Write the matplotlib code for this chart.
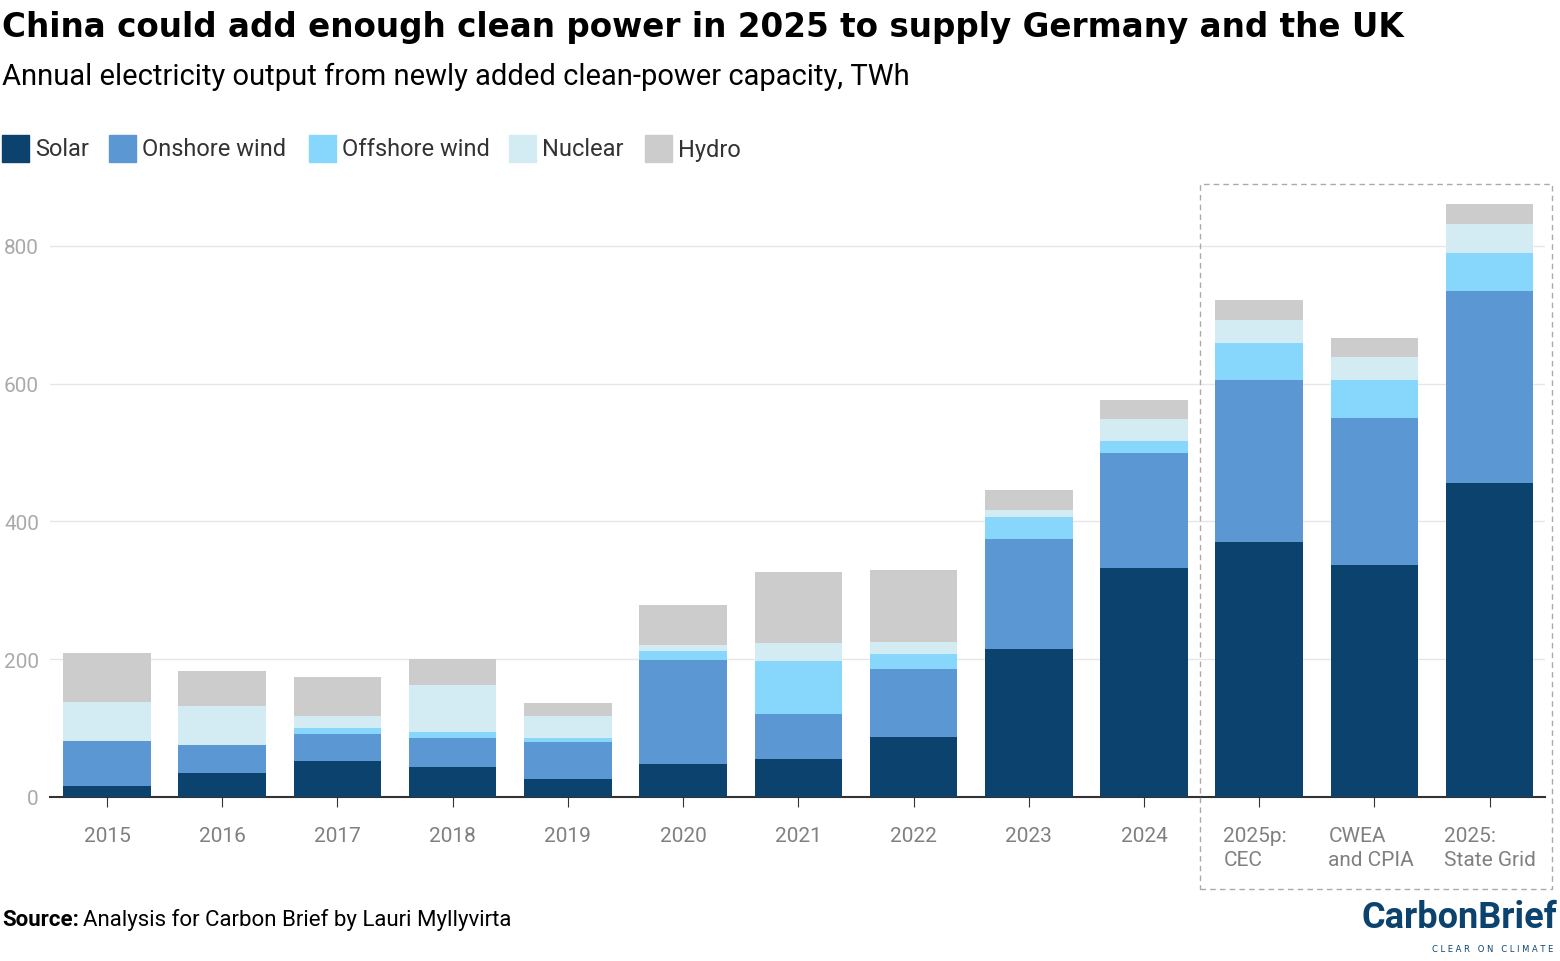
import numpy as np
import matplotlib.pyplot as plt
import matplotlib.transforms as mtrans
from matplotlib.patches import Rectangle

# data (TWh)
categories = ['2015', '2016', '2017', '2018', '2019', '2020', '2021', '2022', '2023', '2024',
              '2025p:\nCEC', 'CWEA\nand CPIA', '2025:\nState Grid']
solar = [16, 35, 52, 44, 26, 48, 55, 87, 215, 332, 370, 337, 456]
onshore = [65, 40, 39, 42, 54, 151, 66, 99, 160, 167, 235, 213, 279]
offshore = [0, 0, 9, 8, 6, 13, 76, 22, 32, 18, 54, 55, 55]
nuclear = [57, 57, 18, 69, 32, 9, 27, 17, 10, 32, 34, 34, 42]
hydro = [71, 51, 56, 37, 18, 58, 103, 105, 29, 27, 29, 27, 29]

series = [('Solar', solar, '#0b436e'), ('Onshore wind', onshore, '#5b97d2'),
          ('Offshore wind', offshore, '#87d6fb'), ('Nuclear', nuclear, '#d3ecf3'),
          ('Hydro', hydro, '#cccccc')]

fig = plt.figure(figsize=(15.6, 9.62), dpi=100)
ax = fig.add_axes([50/1560, 1-798/962, 1495/1560, 613/962])
x = np.arange(len(categories))
bottom = np.zeros(len(categories))
for name, vals, col in series:
    ax.bar(x, vals, 0.76, bottom=bottom, color=col, zorder=3)
    bottom += np.array(vals)

ax.set_xlim(-0.495, 12.48)
ax.set_ylim(0, 890)
ax.set_yticks([0, 200, 400, 600, 800])
ax.set_xticks(x)
ax.set_xticklabels(categories, fontsize=15, color='#808080', fontfamily='Roboto', linespacing=1.3)
ax.tick_params(axis='x', length=7, color='#333333', pad=14)
ax.tick_params(axis='y', length=0, labelsize=15, labelcolor='#aaaaaa', pad=8)
for lab in ax.get_yticklabels():
    lab.set_fontfamily('Roboto')
ax.grid(axis='y', color='#e6e6e6', lw=1, zorder=0)
for s in ['top', 'right', 'left']:
    ax.spines[s].set_visible(False)
ax.spines['bottom'].set_color('#333333')
ax.spines['bottom'].set_linewidth(1.5)
# last three labels are left-aligned under their bars
for lab, off in zip(ax.get_xticklabels()[10:], [0.36, 0.46, 0.46]):
    lab.set_ha('left')
    lab.set_transform(lab.get_transform() + mtrans.ScaledTranslation(-off, 0, fig.dpi_scale_trans))

# dashed box around the 2025 projections
fig.patches.append(Rectangle((1200/1560, 1-890/962), 352/1560, 705/962, transform=fig.transFigure,
                             fill=False, ls=(0, (4, 3)), lw=1, ec='#aaaaaa'))

fig.text(2/1560, 1-27/962, 'China could add enough clean power in 2025 to supply Germany and the UK',
         fontsize=23.5, fontweight='bold', va='center')
fig.text(2/1560, 1-77/962, 'Annual electricity output from newly added clean-power capacity, TWh',
         fontsize=21, fontfamily='Roboto', va='center')

# legend
lx = 2
for name, vals, col in series:
    fig.patches.append(Rectangle((lx/1560, 1-163/962), 27/1560, 27/962, transform=fig.transFigure, color=col))
    fig.text((lx+33)/1560, 1-150/962, name, fontsize=17, fontfamily='Roboto', va='center', color='#333333')
    lx += {'Solar': 107, 'Onshore wind': 200, 'Offshore wind': 200, 'Nuclear': 136, 'Hydro': 0}[name]

fig.text(2/1560, 1-920/962, 'Source:', fontsize=16, fontweight='bold', fontfamily='Roboto', va='center')
fig.text(83/1560, 1-920/962, 'Analysis for Carbon Brief by Lauri Myllyvirta',
         fontsize=16, fontfamily='Roboto', va='center')
fig.text(1557/1560, 1-918/962, 'CarbonBrief', fontsize=26, fontweight='bold', color='#0b436e',
         fontfamily='Roboto', ha='right', va='center')
fig.text(1553/1560, 1-950/962, 'C L E A R   O N   C L I M A T E', fontsize=6, color='#0b436e',
         ha='right', va='center')

fig.savefig('out.png', dpi=100)
